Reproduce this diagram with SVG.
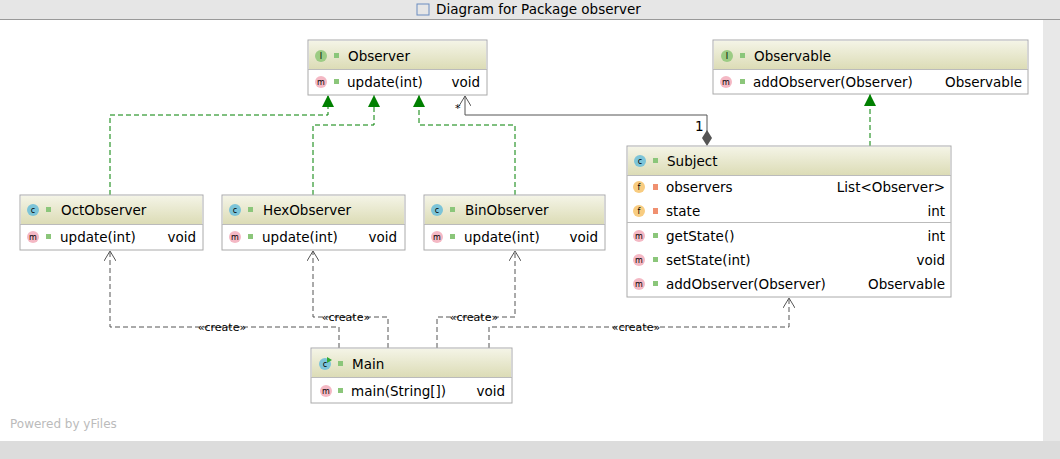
<svg xmlns="http://www.w3.org/2000/svg" width="1060" height="459" viewBox="0 0 1060 459">
<defs>
<linearGradient id="hg" x1="0" y1="0" x2="0" y2="1"><stop offset="0" stop-color="#f4f4e6"/><stop offset="1" stop-color="#dcdcb6"/></linearGradient>
<marker id="tri" markerWidth="12" markerHeight="12" refX="12" refY="6" orient="auto" markerUnits="userSpaceOnUse" viewBox="0 0 12 12"><path d="M12,6 L0,0 L0,12 Z" fill="#008000"/></marker>
<marker id="open" markerWidth="12" markerHeight="12" refX="11" refY="6" orient="auto" markerUnits="userSpaceOnUse" viewBox="0 0 12 12"><path d="M1,0 L11,6 L1,12" fill="none" stroke="#555" stroke-width="1"/></marker>
</defs>
<style>
text{font-family:"DejaVu Sans",sans-serif;font-size:13.5px;fill:#000}
.box{fill:#fff;stroke:#aaa;stroke-width:1}
.hd{fill:url(#hg)}
.sep{stroke:#bbb;stroke-width:1}
.real{fill:none;stroke:#008000;stroke-dasharray:5,3;stroke-width:1}
.dep{fill:none;stroke:#555;stroke-dasharray:5,3;stroke-width:1}
.lbl{font-size:11px}
.ic{font-size:8px;text-anchor:middle}
</style>
<rect x="0" y="0" width="1060" height="459" fill="#fff"/>
<rect x="0" y="0" width="1060" height="19" fill="#e6e6e6"/>
<line x1="0" y1="19.5" x2="1060" y2="19.5" stroke="#999"/>
<text x="436" y="14">Diagram for Package observer</text>
<rect x="417" y="4" width="12" height="11" fill="none" stroke="#6a8cc0"/>
<rect x="1043" y="20" width="17" height="421" fill="#e8e8e8"/>
<rect x="0" y="441" width="1060" height="18" fill="#dcdcdc"/>
<text x="10" y="428" style="fill:#bbb;font-size:12px">Powered by yFiles</text>

<g id="connectors">
<polyline class="real" points="110,195 110,115 328,115 328,95" marker-end="url(#tri)"/>
<polyline class="real" points="313,195 313,125 374,125 374,95" marker-end="url(#tri)"/>
<polyline class="real" points="515,195 515,125 419,125 419,95" marker-end="url(#tri)"/>
<polyline class="real" points="870,146 870,94" marker-end="url(#tri)"/>
<polyline points="707,138 707,115 465,115 465,96" fill="none" stroke="#555" marker-end="url(#open)"/>
<path d="M707,130 L712,138 L707,146 L702,138 Z" fill="#555"/>
<text x="695" y="131">1</text>
<text x="455" y="112" class="lbl">*</text>
<polyline class="dep" points="339,348 339,327 110,327 110,251" marker-end="url(#open)"/>
<polyline class="dep" points="388,348 388,317 313,317 313,251" marker-end="url(#open)"/>
<polyline class="dep" points="437,348 437,317 515,317 515,251" marker-end="url(#open)"/>
<polyline class="dep" points="489,348 489,327 789,327 789,298" marker-end="url(#open)"/>
<text x="222" y="331" class="lbl" text-anchor="middle">«create»</text>
<text x="346" y="321" class="lbl" text-anchor="middle">«create»</text>
<text x="474" y="321" class="lbl" text-anchor="middle">«create»</text>
<text x="636" y="331" class="lbl" text-anchor="middle">«create»</text>
</g>

<g id="Observer">
<rect class="box" x="308" y="40" width="179" height="55"/>
<rect class="hd" x="309" y="41" width="177" height="28"/>
<line class="sep" x1="308" y1="69.5" x2="487" y2="69.5"/>
<circle cx="321" cy="56" r="6" fill="#9ccc84"/><text x="321" y="59" class="ic">I</text>
<rect x="334" y="53" width="5" height="5" fill="#8bc67a"/>
<text x="348" y="61">Observer</text>
<circle cx="321" cy="82" r="6" fill="#f4b8c4"/><text x="321" y="85" class="ic">m</text>
<rect x="334" y="79" width="5" height="5" fill="#8bc67a"/>
<text x="347" y="87">update(int)</text><text x="480" y="87" text-anchor="end">void</text>
</g>

<g id="Observable">
<rect class="box" x="713" y="40" width="315" height="54"/>
<rect class="hd" x="714" y="41" width="313" height="28"/>
<line class="sep" x1="713" y1="69.5" x2="1028" y2="69.5"/>
<circle cx="727" cy="56" r="6" fill="#9ccc84"/><text x="727" y="59" class="ic">I</text>
<rect x="740" y="53" width="5" height="5" fill="#8bc67a"/>
<text x="754" y="61">Observable</text>
<circle cx="726" cy="82" r="6" fill="#f4b8c4"/><text x="726" y="85" class="ic">m</text>
<rect x="740" y="79" width="5" height="5" fill="#8bc67a"/>
<text x="753" y="87">addObserver(Observer)</text><text x="1022" y="87" text-anchor="end">Observable</text>
</g>

<g id="Subject">
<rect class="box" x="627" y="146" width="324" height="151"/>
<rect class="hd" x="628" y="147" width="322" height="28"/>
<line class="sep" x1="627" y1="175.5" x2="951" y2="175.5"/>
<line class="sep" x1="627" y1="222.5" x2="951" y2="222.5"/>
<circle cx="640" cy="161" r="6" fill="#7cc4d8"/><text x="640" y="164" class="ic">c</text>
<rect x="653" y="158" width="5" height="5" fill="#8bc67a"/>
<text x="667" y="166">Subject</text>
<circle cx="639" cy="187" r="6" fill="#f8cc80"/><text x="639" y="190" class="ic">f</text>
<rect x="653" y="184" width="5" height="6" fill="#f09070"/>
<text x="666" y="192">observers</text><text x="945" y="192" text-anchor="end">List&lt;Observer&gt;</text>
<circle cx="639" cy="211" r="6" fill="#f8cc80"/><text x="639" y="214" class="ic">f</text>
<rect x="653" y="208" width="5" height="6" fill="#f09070"/>
<text x="666" y="216">state</text><text x="945" y="216" text-anchor="end">int</text>
<circle cx="639" cy="236" r="6" fill="#f4b8c4"/><text x="639" y="239" class="ic">m</text>
<rect x="653" y="233" width="5" height="5" fill="#8bc67a"/>
<text x="666" y="241">getState()</text><text x="945" y="241" text-anchor="end">int</text>
<circle cx="639" cy="260" r="6" fill="#f4b8c4"/><text x="639" y="263" class="ic">m</text>
<rect x="653" y="257" width="5" height="5" fill="#8bc67a"/>
<text x="666" y="265">setState(int)</text><text x="945" y="265" text-anchor="end">void</text>
<circle cx="639" cy="284" r="6" fill="#f4b8c4"/><text x="639" y="287" class="ic">m</text>
<rect x="653" y="281" width="5" height="5" fill="#8bc67a"/>
<text x="666" y="289">addObserver(Observer)</text><text x="945" y="289" text-anchor="end">Observable</text>
</g>

<g id="OctObserver">
<rect class="box" x="20" y="195" width="183" height="55"/>
<rect class="hd" x="21" y="196" width="181" height="28"/>
<line class="sep" x1="20" y1="224.5" x2="203" y2="224.5"/>
<circle cx="33" cy="210" r="6" fill="#7cc4d8"/><text x="33" y="213" class="ic">c</text>
<rect x="46" y="207" width="5" height="5" fill="#8bc67a"/>
<text x="61" y="215">OctObserver</text>
<circle cx="33" cy="237" r="6" fill="#f4b8c4"/><text x="33" y="240" class="ic">m</text>
<rect x="46" y="234" width="5" height="5" fill="#8bc67a"/>
<text x="60" y="242">update(int)</text><text x="196" y="242" text-anchor="end">void</text>
</g>

<g id="HexObserver">
<rect class="box" x="222" y="195" width="183" height="55"/>
<rect class="hd" x="223" y="196" width="181" height="28"/>
<line class="sep" x1="222" y1="224.5" x2="405" y2="224.5"/>
<circle cx="235" cy="210" r="6" fill="#7cc4d8"/><text x="235" y="213" class="ic">c</text>
<rect x="248" y="207" width="5" height="5" fill="#8bc67a"/>
<text x="263" y="215">HexObserver</text>
<circle cx="235" cy="237" r="6" fill="#f4b8c4"/><text x="235" y="240" class="ic">m</text>
<rect x="248" y="234" width="5" height="5" fill="#8bc67a"/>
<text x="262" y="242">update(int)</text><text x="397" y="242" text-anchor="end">void</text>
</g>

<g id="BinObserver">
<rect class="box" x="424" y="195" width="181" height="55"/>
<rect class="hd" x="425" y="196" width="179" height="28"/>
<line class="sep" x1="424" y1="224.5" x2="605" y2="224.5"/>
<circle cx="437" cy="210" r="6" fill="#7cc4d8"/><text x="437" y="213" class="ic">c</text>
<rect x="450" y="207" width="5" height="5" fill="#8bc67a"/>
<text x="465" y="215">BinObserver</text>
<circle cx="437" cy="237" r="6" fill="#f4b8c4"/><text x="437" y="240" class="ic">m</text>
<rect x="450" y="234" width="5" height="5" fill="#8bc67a"/>
<text x="464" y="242">update(int)</text><text x="598" y="242" text-anchor="end">void</text>
</g>

<g id="Main">
<rect class="box" x="311" y="348" width="201" height="55"/>
<rect class="hd" x="312" y="349" width="199" height="28"/>
<line class="sep" x1="311" y1="377.5" x2="512" y2="377.5"/>
<circle cx="325" cy="364" r="6" fill="#7cc4d8"/><text x="325" y="367" class="ic">c</text>
<path d="M327,357 L332,360 L327,363 Z" fill="#3a3"/>
<rect x="338" y="361" width="5" height="5" fill="#8bc67a"/>
<text x="352" y="369">Main</text>
<circle cx="326" cy="391" r="6" fill="#f4b8c4"/><text x="326" y="394" class="ic">m</text>
<rect x="338" y="388" width="5" height="5" fill="#8bc67a"/>
<text x="351" y="396">main(String[])</text><text x="505" y="396" text-anchor="end">void</text>
</g>
</svg>
